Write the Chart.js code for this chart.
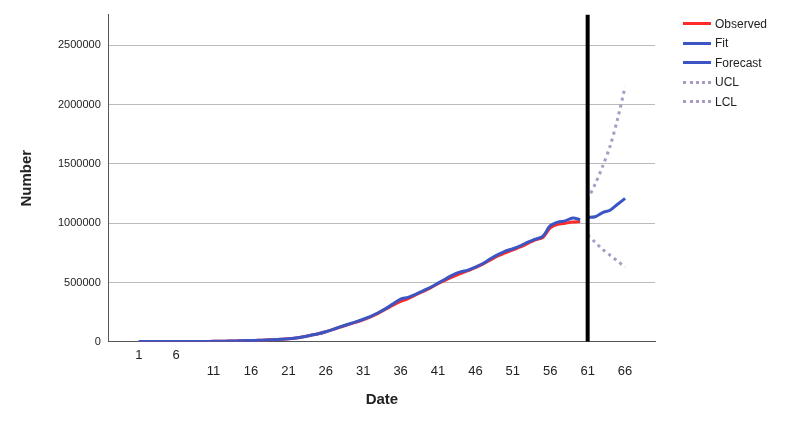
<!DOCTYPE html>
<html><head><meta charset="utf-8">
<script src="https://cdn.jsdelivr.net/npm/chart.js@4"></script>
<style>
body{margin:0;background:#fff;font-family:"Liberation Sans",Arial,sans-serif}
#wrap{position:relative;width:785px;height:427px}
#legend{position:absolute;left:683px;top:14px;font-size:12px;color:#222}
#legend div{height:19.5px;display:flex;align-items:center}
#legend span.s{display:inline-block;width:28px;margin-right:4px;border-top:3px solid}
</style></head><body>
<div id="wrap"><canvas id="c" width="785" height="427"></canvas>
<div id="legend">
<div><span class="s" style="border-color:#ff2a2a"></span>Observed</div>
<div><span class="s" style="border-color:#3b56c4"></span>Fit</div>
<div><span class="s" style="border-color:#3b56c4"></span>Forecast</div>
<div><span class="s" style="border-top:3px dotted #a99bc4"></span>UCL</div>
<div><span class="s" style="border-top:3px dotted #a99bc4"></span>LCL</div>
</div></div>
<script>
const tickValues=[1,6,11,16,21,26,31,36,41,46,51,56,61,66];
const observed=[500,600,800,1000,1200,1500,1800,2200,2700,3200,
4000,5000,6000,7500,9000,11000,13000,15000,18000,21000,
25000,32000,42000,55000,68000,85000,105000,125000,145000,165000,
185000,210000,240000,275000,310000,340000,365000,395000,425000,455000,
490000,520000,550000,575000,600000,625000,655000,690000,725000,750000,
775000,800000,830000,860000,880000,960000,990000,1000000,1010000,1015000];
const fit=[2000,2000,2000,2000,2000,2000,2000,2200,2700,3200,
4000,5000,6000,7500,9000,11000,13000,15000,18000,21000,
25000,32000,42000,55000,68000,85000,105000,128000,148000,168000,
190000,215000,245000,280000,320000,360000,375000,400000,430000,460000,
495000,530000,565000,590000,605000,630000,660000,700000,735000,765000,
785000,810000,840000,865000,890000,980000,1010000,1020000,1045000,1030000];
const forecastX=[61,62,63,64,65,66];
const forecast=[1050000,1055000,1090000,1110000,1160000,1210000];
const ucl=[1200000,1330000,1480000,1650000,1880000,2150000];
const lcl=[900000,840000,780000,730000,680000,630000];
const days=observed.map((_,i)=>i+1);
const pts=(xs,ys)=>xs.map((x,i)=>({x,y:ys[i]}));
new Chart(document.getElementById('c'),{type:'line',
data:{datasets:[
{data:[{x:61,y:0},{x:61,y:2760000}],borderColor:'#000',borderWidth:4,pointRadius:0},
{data:pts(days,fit),borderColor:'#3b56c4',borderWidth:3,pointRadius:0,tension:0.3},
{data:pts(days,observed),borderColor:'#ff2a2a',borderWidth:3,pointRadius:0,tension:0.3},
{data:pts(forecastX,forecast),borderColor:'#3b56c4',borderWidth:3,pointRadius:0,tension:0.3},
{data:pts(forecastX,ucl),borderColor:'#a99bc4',borderWidth:3,borderDash:[3,4],pointRadius:0,tension:0.3},
{data:pts(forecastX,lcl),borderColor:'#a99bc4',borderWidth:3,borderDash:[3,4],pointRadius:0,tension:0.3}
]},
options:{responsive:false,animation:false,
layout:{padding:{right:130,top:14,left:14,bottom:14}},
plugins:{legend:{display:false},tooltip:{enabled:false}},
scales:{
x:{type:'linear',min:-3,max:70,grid:{display:false,drawTicks:false},border:{color:'#555'},
 afterBuildTicks:a=>{a.ticks=tickValues.map(v=>({value:v}));},
 ticks:{autoSkip:false,maxRotation:0,color:'#222',font:{size:13},padding:6,
  callback:v=>(v<10?[String(v),'']:['',String(v)])},
 title:{display:true,text:'Date',font:{size:15,weight:'bold'},color:'#222',padding:{top:6}}},
y:{min:0,max:2760000,grid:{color:'#bbb',drawTicks:false},border:{color:'#555'},
 afterBuildTicks:a=>{a.ticks=[0,500000,1000000,1500000,2000000,2500000].map(v=>({value:v}));},
 ticks:{color:'#222',font:{size:11},padding:8,callback:v=>String(v)},
 title:{display:true,text:'Number',font:{size:15,weight:'bold'},color:'#222',padding:{bottom:14}}}
}}});
</script></body></html>
